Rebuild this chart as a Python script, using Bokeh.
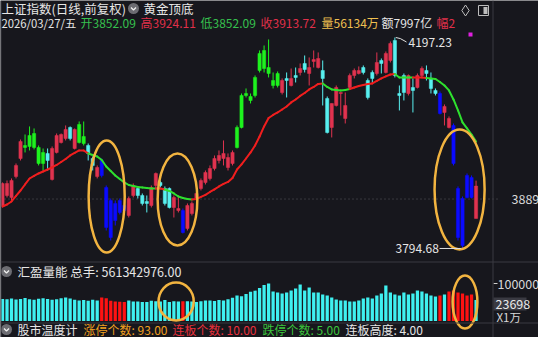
from bokeh.plotting import figure
from bokeh.models import Range1d, Label, ColumnDataSource, Span
from bokeh.embed import file_html
from bokeh.resources import INLINE

# ---------------- data ----------------
opens = [3874.8, 3895.8, 3892.0, 3932.1, 3966.4, 3991.2, 4010.3, 4014.1, 3987.4, 3977.9,
         3976.0, 3926.4, 3977.9, 3996.9, 4004.6, 4025.6, 3985.5, 4031.3, 4008.4, 3991.2,
         3966.4, 3932.1, 3962.6, 3911.1, 3886.3, 3880.6, 3886.3, 3876.7, 3857.7, 3895.8,
         3909.2, 3895.8, 3884.4, 3876.7, 3914.9, 3920.6, 3909.2, 3909.2, 3872.9, 3867.2,
         3867.2, 3832.9, 3861.5, 3890.1, 3909.2, 3920.6, 3928.3, 3947.3, 3962.6, 3966.4,
         3949.2, 3956.9, 3987.4, 4025.6, 4086.6, 4084.7, 4086.6, 4134.3, 4138.1, 4140.0,
         4115.2, 4128.6, 4092.3, 4119.1, 4105.7, 4124.8, 4130.5, 4147.7, 4128.6, 4151.5,
         4140.0, 4134.3, 4080.9, 4025.6, 4067.5, 4090.4, 4042.7, 4101.9, 4124.8, 4128.6,
         4140.0, 4115.2, 4130.5, 4128.6, 4153.4, 4130.5, 4153.4, 4191.6, 4090.4, 4124.8,
         4090.4, 4101.9, 4101.9, 4124.8, 4134.3, 4119.1, 4096.2, 4090.4, 4054.2, 4025.6,
         4029.4, 3909.2, 3890.1, 3934.0, 3930.2, 3852.09]
closes = [3918.7, 3918.7, 3924.4, 3953.1, 3998.9, 3987.4, 3989.3, 3987.4, 3956.9, 3956.9,
          3962.6, 3985.5, 4010.3, 4012.2, 4021.8, 4004.6, 4021.8, 3996.9, 3995.0, 3976.0,
          3953.1, 3949.2, 3934.0, 3834.8, 3815.7, 3848.1, 3863.4, 3867.2, 3890.1, 3914.9,
          3895.8, 3880.6, 3880.6, 3911.1, 3937.8, 3914.9, 3880.6, 3872.9, 3892.0, 3871.0,
          3825.2, 3876.7, 3880.6, 3899.6, 3924.4, 3939.7, 3947.3, 3966.4, 3972.1, 3976.0,
          3968.3, 3977.9, 4025.6, 4086.6, 4090.4, 4077.1, 4121.0, 4166.8, 4172.5, 4128.6,
          4105.7, 4105.7, 4115.2, 4115.2, 4119.1, 4121.0, 4138.1, 4136.2, 4140.0, 4155.3,
          4157.2, 4119.1, 4016.0, 4071.4, 4101.9, 4092.3, 4067.5, 4124.8, 4134.3, 4134.3,
          4130.5, 4082.8, 4119.1, 4149.6, 4147.7, 4166.8, 4185.8, 4124.8, 4086.6, 4092.3,
          4124.8, 4096.2, 4124.8, 4138.1, 4128.6, 4100.0, 4090.4, 4052.3, 4065.6, 4042.7,
          3956.9, 3815.7, 3800.4, 3892.0, 3892.0, 3913.72]
highs = [3920.6, 3924.4, 3928.3, 3956.9, 4002.7, 4012.2, 4027.5, 4023.7, 3991.2, 3985.5,
         3985.5, 3989.3, 4014.1, 4014.1, 4029.4, 4027.5, 4023.7, 4037.0, 4037.0, 3995.0,
         3970.2, 3953.1, 3966.4, 3914.9, 3890.1, 3886.3, 3890.1, 3880.6, 3893.9, 3918.7,
         3913.0, 3899.6, 3895.8, 3914.9, 3939.7, 3924.4, 3913.0, 3911.1, 3895.8, 3895.8,
         3871.0, 3880.6, 3884.4, 3903.5, 3928.3, 3943.5, 3953.1, 3972.1, 3981.7, 4000.8,
         3976.0, 3981.7, 4029.4, 4090.4, 4100.0, 4090.4, 4124.8, 4172.5, 4182.0, 4193.5,
         4130.5, 4132.4, 4119.1, 4130.5, 4138.1, 4140.0, 4147.7, 4162.9, 4159.1, 4172.5,
         4168.7, 4153.4, 4084.7, 4071.4, 4105.7, 4092.3, 4092.3, 4128.6, 4138.1, 4142.0,
         4143.9, 4119.1, 4134.3, 4168.7, 4157.2, 4170.6, 4189.7, 4197.23, 4105.7, 4128.6,
         4126.7, 4119.1, 4128.6, 4142.0, 4143.9, 4130.5, 4100.0, 4094.3, 4069.5, 4046.6,
         4033.2, 3913.0, 3893.9, 3937.8, 3934.0, 3924.11]
lows = [3872.9, 3892.0, 3886.3, 3928.3, 3962.6, 3977.9, 3981.7, 3983.6, 3953.1, 3943.5,
        3943.5, 3924.4, 3976.0, 3995.0, 4000.8, 4000.8, 3983.6, 3995.0, 3991.2, 3962.6,
        3943.5, 3928.3, 3930.2, 3829.0, 3810.0, 3838.6, 3859.6, 3863.4, 3853.8, 3892.0,
        3890.1, 3876.7, 3863.4, 3872.9, 3909.2, 3911.1, 3876.7, 3871.0, 3853.8, 3863.4,
        3823.3, 3829.0, 3857.7, 3886.3, 3905.4, 3916.8, 3924.4, 3943.5, 3956.9, 3953.1,
        3943.5, 3953.1, 3985.5, 4023.7, 4082.8, 4071.4, 4082.8, 4130.5, 4130.5, 4121.0,
        4100.0, 4101.9, 4088.5, 4082.8, 4103.8, 4111.4, 4124.8, 4130.5, 4105.7, 4140.0,
        4138.1, 4067.5, 4014.1, 4006.5, 4065.6, 4048.5, 4033.2, 4100.0, 4119.1, 4126.7,
        4126.7, 4079.0, 4109.5, 4124.8, 4128.6, 4128.6, 4149.6, 4121.0, 4058.0, 4077.1,
        4086.6, 4054.2, 4100.0, 4121.0, 4115.2, 4090.4, 4086.6, 4050.4, 4029.4, 4023.7,
        3953.1, 3810.0, 3794.68, 3890.1, 3890.1, 3852.09]
# candle class: r = up, c = down, g = golden signal, b = bottom signal
kinds = list("rrrrrgggggcrrrrcrggccrbbbbbbrrcccrrcccrrbrrrrrrrrrrrgggggggggg"
             "rcrcrcrrrccrrrrrrrcccrcrrcccrcrrcccbrrbbbbbr")
ma = [3874.8, 3878.6, 3884.4, 3894.9, 3905.3, 3916.8, 3928.2, 3933.0, 3937.8, 3941.6,
      3945.4, 3949.2, 3954.0, 3959.7, 3965.4, 3972.1, 3976.9, 3981.7, 3981.7, 3976.0,
      3973.1, 3970.2, 3963.5, 3951.1, 3942.5, 3934.0, 3927.3, 3920.6, 3915.8, 3913.9,
      3912.0, 3911.1, 3910.1, 3909.2, 3909.2, 3909.2, 3907.3, 3904.4, 3899.6, 3893.9,
      3891.0, 3889.1, 3888.2, 3889.1, 3893.0, 3896.8, 3902.5, 3907.3, 3913.0, 3917.8,
      3921.6, 3929.2, 3945.4, 3955.0, 3966.4, 3977.9, 3991.2, 4008.4, 4027.5, 4043.7,
      4049.4, 4054.2, 4059.9, 4065.6, 4073.3, 4079.0, 4085.7, 4091.4, 4098.1, 4102.8,
      4108.6, 4109.5, 4102.8, 4098.1, 4097.1, 4096.2, 4097.1, 4099.0, 4101.9, 4104.8,
      4106.7, 4108.6, 4109.5, 4114.3, 4119.1, 4122.9, 4126.7, 4127.6, 4121.0, 4121.0,
      4121.0, 4121.0, 4121.0, 4121.0, 4120.0, 4119.1, 4118.1, 4112.4, 4105.7, 4096.2,
      4079.0, 4058.0, 4035.1, 4023.7, 4012.2, 3998.9]
ma_up = ([1] * 20 + [0] * 15 + [1] * 2 + [0] * 6 + [1] * 29 + [0] * 6 + [1] * 10
         + [0] * 4 + [1] * 3 + [0] * 11)
vol = [59000, 58000, 60000, 57500, 59000, 61500, 58000, 57000, 59500, 60500,
       58500, 57000, 58000, 61000, 62500, 60000, 57000, 55000, 56000, 54000,
       57000, 55000, 63000, 61000, 54000, 52000, 51500, 51000, 54700, 52000,
       52000, 51000, 50500, 54000, 53000, 52000, 56000, 51000, 53000, 52000,
       53000, 53000, 52000, 51000, 52500, 54500, 55000, 53500, 56000, 55000,
       58000, 62000, 68000, 66000, 72000, 78000, 81000, 88000, 96000, 100000,
       78700, 76000, 73300, 76000, 81300, 86700, 97300, 81300, 89300, 76000,
       76000, 70700, 68000, 62700, 57300, 54700, 54700, 52000, 52000, 54700,
       60000, 62700, 60000, 68000, 73300, 94700, 76000, 70700, 68000, 76000,
       70700, 73300, 81300, 78700, 73300, 68000, 65300, 68000, 70700, 78700,
       81300, 76000, 73300, 68000, 70700, 56134]
vol_signal = [1 if (22 <= i <= 27 or i == 40 or i == 97 or 99 <= i <= 104) else 0
              for i in range(len(vol))]
price_tick = 3889
vol_tick = 100000
vol_now = 23698
high_mark = 4197.23
low_mark = 3794.68
# highlighted zones (candle index span, price / volume span)
zones_price = [(19.1, 27.1, 3787.0, 4000.7), (34.4, 43.2, 3800.4, 3975.9), (95.8, 106.9, 3792.8, 4021.7)]
zones_vol = [(34.6, 42.4, 1300, 102700), (99.8, 105.3, -20000, 121300)]

# ---------------- geometry / style ----------------
W, H = 538, 337
STEP = 4.51
X0 = -2 / STEP
P_PER_PX = 1.908
PMAX = high_mark + 37 * P_PER_PX
V_PER_PX = 2667.0
VMIN = -16.5 * V_PER_PX
BG = "#17171d"
FONT = "Noto Sans CJK SC"
RED, CYAN, GREEN, BLUE = "#e0334f", "#58f0f0", "#1ef21e", "#0b0bff"
ORANGE = "#f2b440"
GRID = "#3a3a42"
col_map = {"r": RED, "c": CYAN, "g": GREEN, "b": BLUE}


def xpx(px):
    return X0 + px / STEP


def ypx(py):
    return PMAX - py * P_PER_PX


def vpx(py):
    return VMIN + (H - py) * V_PER_PX


p = figure(width=W, height=H, x_range=Range1d(X0, X0 + W / STEP),
           y_range=Range1d(PMAX - H * P_PER_PX, PMAX),
           output_backend="svg", toolbar_location=None,
           x_axis_location=None, y_axis_location=None, min_border=0,
           background_fill_color=BG, border_fill_color=BG, outline_line_color=None)
p.grid.visible = False
p.extra_y_ranges = {"vol": Range1d(VMIN, VMIN + H * V_PER_PX)}

n = len(opens)
xs = list(range(n))
btop, bbot = [], []
for o, c in zip(opens, closes):
    t, b = max(o, c), min(o, c)
    if t - b < 1.9:
        t = b + 1.9
    btop.append(t)
    bbot.append(b)
colors = [col_map[k] for k in kinds]
src = ColumnDataSource(dict(x=xs, h=highs, l=lows, t=btop, b=bbot, c=colors))

# separators
p.add_layout(Span(location=xpx(492.5), dimension="height", line_color=GRID, line_width=1))
p.add_layout(Span(location=xpx(0.5), dimension="height", line_color=GRID, line_width=1))
p.add_layout(Span(location=ypx(261.5), dimension="width", line_color=GRID, line_width=1))
p.add_layout(Span(location=ypx(322.5), dimension="width", line_color=GRID, line_width=1))
# dotted price reference
p.segment(x0=[xpx(0)], y0=[price_tick], x1=[xpx(500)], y1=[price_tick],
          line_color="#5a5a60", line_dash="1 3", line_width=1)

# candles
p.segment(x0="x", y0="l", x1="x", y1="h", color="c", line_width=1, source=src)
p.vbar(x="x", width=0.72, top="t", bottom="b", fill_color="c", line_color="c", line_width=0.5, source=src)

# MA line (two-colour)
p.segment(x0=xs[:-1], y0=ma[:-1], x1=xs[1:], y1=ma[1:],
          line_color=[("#f01e1e" if u else "#2ee02e") for u in ma_up[1:]],
          line_width=2, line_cap="round")

# volume
vcol = ["#ff1212" if s else "#3ff0f0" for s in vol_signal]
p.vbar(x=xs, width=0.72, top=vol, bottom=0, fill_color=vcol, line_color=None, y_range_name="vol")

# highlight ellipses
for a, b, lo, hi in zones_price:
    p.ellipse(x=[(a + b) / 2], y=[(lo + hi) / 2], width=[b - a], height=[hi - lo],
              fill_color=None, line_color=ORANGE, line_width=2.5)
for a, b, lo, hi in zones_vol:
    p.ellipse(x=[(a + b) / 2], y=[(lo + hi) / 2], width=[b - a], height=[hi - lo],
              fill_color=None, line_color=ORANGE, line_width=2.5, y_range_name="vol")

# high / low markers
ih = highs.index(high_mark)
il = lows.index(low_mark)
p.line(x=[ih + 0.2, ih + 1.2, xpx(406)], y=[high_mark, high_mark - 2, ypx(41.5)], line_color="#e0e0e0", line_width=1)
p.line(x=[xpx(439), il - 0.4], y=[low_mark, low_mark], line_color="#e0e0e0", line_width=1)


def lab(px, py, text, color="#e6e6e6", size="12px"):
    p.add_layout(Label(x=px, y=H - py, x_units="screen", y_units="screen", text=text,
                       text_color=color, text_font=FONT, text_font_size=size,
                       text_baseline="middle", text_align="left"))


lab(408, 42, f"{high_mark:.2f}", size="12px")
lab(395, 248, f"{low_mark:.2f}", size="12px")

# right-hand scale labels
p.segment(x0=[xpx(493)], y0=[vol_tick], x1=[xpx(497)], y1=[vol_tick], line_color="#cfcfcf", y_range_name="vol")
lab(511, 198, f"{price_tick}", color="#d8d8d8", size="12.5px")
lab(497, 283, f"{vol_tick}", color="#d8d8d8", size="12.5px")
p.quad(left=[xpx(493)], right=[xpx(526)], top=[vpx(297)], bottom=[vpx(310)],
       fill_color="#3a3a42", line_color=None, y_range_name="vol")
lab(495, 303.5, f"{vol_now}", color="#e8e8e8", size="12.5px")
lab(496, 316.5, "X1万", color="#d8d8d8", size="11.5px")

# header rows
lab(1, 8, "上证指数(日线,前复权)", size="12.5px")
lab(143, 8, "黄金顶底", size="12.5px")
lab(1, 22, "2026/03/27/五", size="11.3px")
lab(80, 22, "开3852.09", color="#36c04e", size="12px")
lab(140, 22, "高3924.11", color="#e0304a", size="12px")
lab(200, 22, "低3852.09", color="#36c04e", size="12px")
lab(260, 22, "收3913.72", color="#e0304a", size="12px")
lab(321, 22, "量56134万", color="#f0c050", size="12px")
lab(381, 22, "额7997亿", color="#e6e6e6", size="12px")
lab(436, 22, "幅2", color="#e0304a", size="12px")

# panel titles
lab(17, 271, "汇盈量能 总手: 561342976.00", size="12.5px")
FY = 329.0
lab(17, FY, "股市温度计", size="12px")
lab(83, FY, "涨停个数: 93.00", color="#f0a020", size="12px")
lab(172, FY, "连板个数: 10.00", color="#e8303c", size="12px")
lab(262, FY, "跌停个数: 5.00", color="#3cc43c", size="12px")
lab(345, FY, "连板高度: 4.00", size="12px")

# round chevron icons
for cx, cy in [(133, 8), (6, 271), (6, FY)]:
    p.scatter(x=[xpx(cx)], y=[ypx(cy)], size=11, marker="circle", fill_color="#6c6c72", line_color=None)
    p.line(x=[xpx(cx - 2.5), xpx(cx), xpx(cx + 2.5)], y=[ypx(cy - 1), ypx(cy + 1.5), ypx(cy - 1)],
           line_color="#f0f0f0", line_width=1.3)
# top-right icons
p.scatter(x=[xpx(465)], y=[ypx(10)], size=11, marker="diamond", fill_color=None, line_color="#bdbdbd")
p.quad(left=[xpx(478)], right=[xpx(488)], top=[ypx(5)], bottom=[ypx(15)], fill_color=None, line_color="#bdbdbd")
p.quad(left=[xpx(483)], right=[xpx(487)], top=[ypx(6.5)], bottom=[ypx(13.5)], fill_color="#bdbdbd", line_color=None)
p.scatter(x=[xpx(470)], y=[ypx(34)], size=4, marker="square", fill_color="#e020e0", line_color=None)

open("out.html", "w").write(file_html(p, INLINE))
